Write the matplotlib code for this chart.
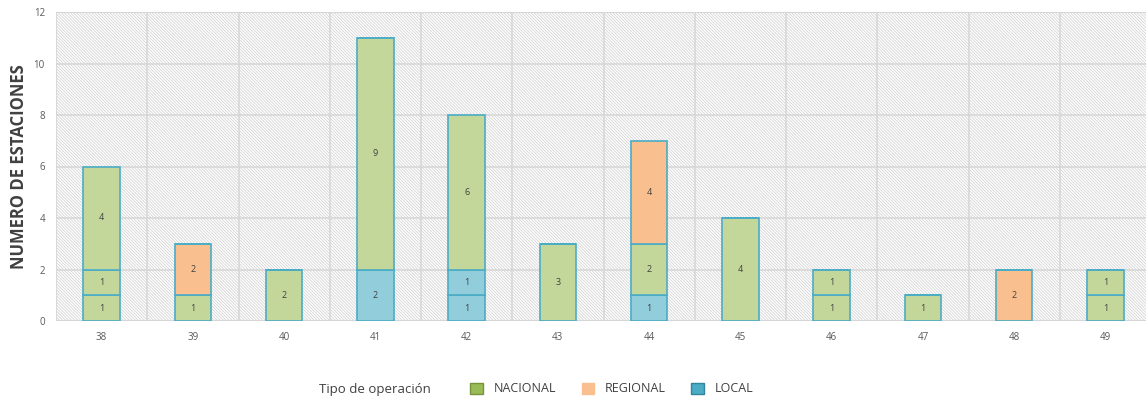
import matplotlib.pyplot as plt
from matplotlib.patches import Patch

plt.rcParams['font.family'] = ['Open Sans', 'DejaVu Sans']
plt.rcParams['hatch.color'] = '#d4d4d4'
plt.rcParams['hatch.linewidth'] = 0.6

# Data: categories and stacked segments (bottom to top) with their operation type
categories = ['38', '39', '40', '41', '42', '43', '44', '45', '46', '47', '48', '49']
layer1_vals = [1, 1, 2, 2, 1, 3, 1, 4, 1, 1, 2, 1]
layer1_type = ['N', 'N', 'N', 'L', 'L', 'N', 'L', 'N', 'N', 'N', 'R', 'N']
layer2_vals = [1, 2, 0, 9, 1, 0, 2, 0, 1, 0, 0, 1]
layer2_type = ['N', 'R', '', 'N', 'L', '', 'N', '', 'N', '', '', 'N']
layer3_vals = [4, 0, 0, 0, 6, 0, 4, 0, 0, 0, 0, 0]
layer3_type = ['N', '', '', '', 'N', '', 'R', '', '', '', '', '']

fill_colors = {'N': '#c4d79b', 'R': '#fabf8f', 'L': '#92cddc'}
edge_color = '#4bacc6'

fig = plt.figure(figsize=(11.46, 3.99), dpi=100)
ax = fig.add_axes([56 / 1146, 78 / 399, 1095 / 1146, 309 / 399])

# hatched background
ax.set_facecolor('white')
ax.add_patch(plt.Rectangle((0, 0), 1, 1, transform=ax.transAxes, facecolor='white',
                           edgecolor='#d4d4d4', hatch='\\' * 11, linewidth=0, zorder=0))

x = list(range(len(categories)))
bottom = [0] * len(categories)
for vals, types in [(layer1_vals, layer1_type), (layer2_vals, layer2_type), (layer3_vals, layer3_type)]:
    colors = [fill_colors.get(t, 'white') for t in types]
    ax.bar(x, vals, bottom=bottom, width=0.4, color=colors, edgecolor=edge_color,
           linewidth=1.2, zorder=3)
    for b, v, b0 in zip(x, vals, bottom):
        if v > 0:
            ax.text(b, b0 + v / 2, str(v), ha='center', va='center', fontsize=6.5,
                    color='#404040', zorder=4)
    bottom = [b0 + v for b0, v in zip(bottom, vals)]

ax.set_xlim(-0.5, len(categories) - 0.5)
ax.set_ylim(0, 12)
ax.set_yticks(range(0, 13, 2))
ax.set_xticks(x)
ax.set_xticklabels(categories)
ax.set_xticks([i + 0.5 for i in x[:-1]], minor=True)
ax.grid(True, which='major', axis='y', color='#d6d6d6', linewidth=1.1, zorder=1)
ax.grid(True, which='minor', axis='x', color='#d6d6d6', linewidth=1.1, zorder=1)
ax.tick_params(which='both', length=0)
ax.tick_params(axis='both', labelsize=7, colors='#595959', pad=8)
for s in ax.spines.values():
    s.set_visible(False)
ax.axhline(12, color='#d9d9d9', linewidth=1.5, zorder=1)
ax.axhline(0, color='#d9d9d9', linewidth=1.5, zorder=1)
ax.axvline(-0.5, color='#d9d9d9', linewidth=1.5, zorder=1)

ax.set_ylabel('NUMERO DE ESTACIONES', fontsize=12, fontweight='bold', color='#404040', labelpad=4)

# legend at the bottom
fig.text(375 / 1146, 10 / 399, 'Tipo de operación', fontsize=9.5, color='#404040',
         ha='center', va='center')
handles = [Patch(facecolor='#9bbb59', edgecolor='#77933c', label='NACIONAL'),
           Patch(facecolor='#fabf8f', edgecolor='#fabf8f', label='REGIONAL'),
           Patch(facecolor='#4bacc6', edgecolor='#31859c', label='LOCAL')]
fig.legend(handles=handles, loc='center', bbox_to_anchor=(612 / 1146, 10 / 399), ncol=3,
           frameon=False, fontsize=9, handlelength=1.0, handleheight=1.0,
           columnspacing=2.0, handletextpad=0.9, labelcolor='#404040')

fig.savefig('out.png', dpi=100)
